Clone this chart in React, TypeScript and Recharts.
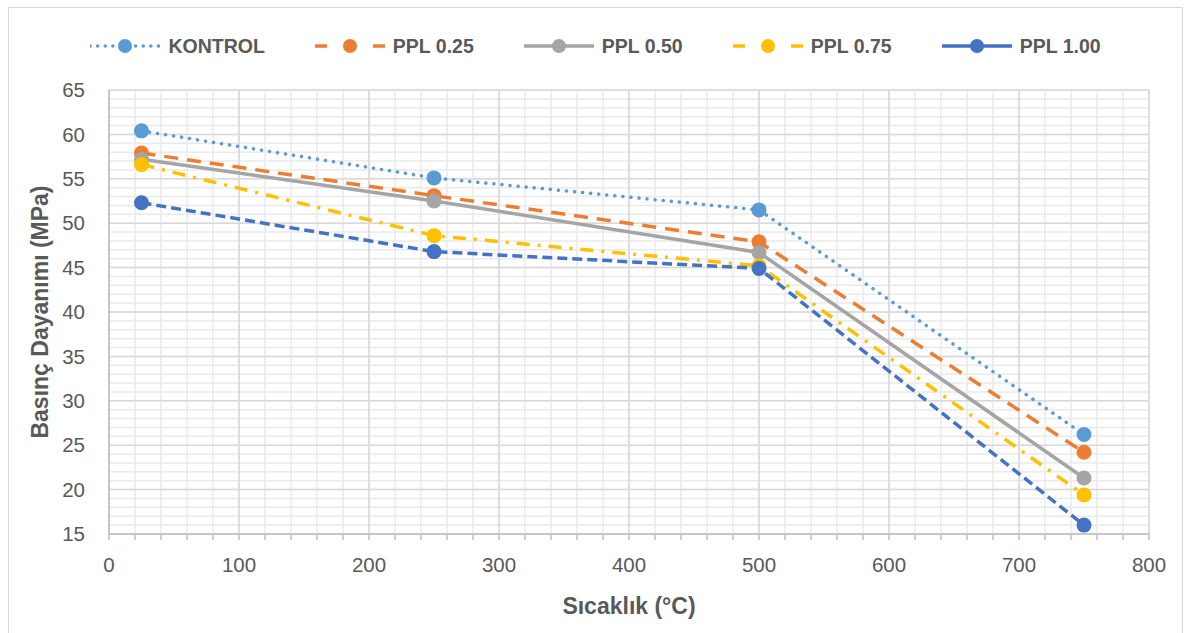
import React from 'react';
import { LineChart, Line, XAxis, YAxis, CartesianGrid, Legend, Label } from 'recharts';

// Sıcaklık değerleri (°C)
const temperatures = [25, 250, 500, 750];

// Basınç dayanımı (MPa) - her seri için
const kontrol = [60.4, 55.1, 51.5, 26.2];
const ppl025 = [57.9, 53.1, 47.9, 24.2];
const ppl050 = [57.2, 52.5, 46.7, 21.3];
const ppl075 = [56.6, 48.6, 45.2, 19.4];
const ppl100 = [52.3, 46.8, 44.9, 16.0];

const xTickLabels = [0, 100, 200, 300, 400, 500, 600, 700, 800];
const yTickLabels = [15, 20, 25, 30, 35, 40, 45, 50, 55, 60, 65];

const series = [
  { key: 'kontrol', name: 'KONTROL', values: kontrol, color: '#5B9BD5', dash: '0.1 8', legendDash: '0.1 7.5', cap: 'round' as const },
  { key: 'ppl025', name: 'PPL 0.25', values: ppl025, color: '#ED7D31', dash: '14 9', legendDash: '12 46 12', cap: 'butt' as const },
  { key: 'ppl050', name: 'PPL 0.50', values: ppl050, color: '#A5A5A5', dash: undefined, legendDash: undefined, cap: 'butt' as const },
  { key: 'ppl075', name: 'PPL 0.75', values: ppl075, color: '#FFC000', dash: '13 8 3 8', legendDash: '12 46 12', cap: 'butt' as const },
  { key: 'ppl100', name: 'PPL 1.00', values: ppl100, color: '#4472C4', dash: '10 5', legendDash: undefined, cap: 'butt' as const },
];

const data = temperatures.map((t, i) => {
  const row: Record<string, number> = { temp: t };
  series.forEach(s => { row[s.key] = s.values[i]; });
  return row;
});

// minor grid / tick positions
const xMinor: number[] = [];
for (let v = 0; v <= 800; v += 20) xMinor.push(v);
const yMinor: number[] = [];
for (let v = 15; v <= 65; v += 1) yMinor.push(v);

const textColor = '#595959';
const font = '"Liberation Sans", Arial, sans-serif';

const LegendContent = () => (
  <div style={{ display: 'flex', justifyContent: 'center', alignItems: 'center', height: 30, gap: 50 }}>
    {series.map(s => (
      <div key={s.key} style={{ display: 'flex', alignItems: 'center' }}>
        <svg width={70} height={20}>
          <line x1={0} y1={10} x2={70} y2={10} stroke={s.color} strokeWidth={3.5}
            strokeDasharray={s.legendDash} strokeLinecap={s.cap} />
          <circle cx={35} cy={10} r={7} fill={s.color} />
        </svg>
        <span style={{ marginLeft: 8, fontFamily: font, fontWeight: 700, fontSize: 19.5, color: textColor }}>
          {s.name}
        </span>
      </div>
    ))}
  </div>
);

export default function App() {
  return (
    <div style={{ position: 'absolute', left: 0, top: 0, width: 1202, height: 633, fontFamily: font, overflow: 'hidden' }}>
      <div style={{ position: 'absolute', left: 8, top: 7, width: 1173, height: 640, border: '1.5px solid #d9d9d9' }} />
      <LineChart width={1202} height={633} data={data} margin={{ top: 60, right: 53, bottom: 0, left: 0 }}>
        <CartesianGrid stroke="#eaeaea" strokeWidth={1.5} horizontalValues={yMinor} verticalValues={xMinor} />
        <CartesianGrid stroke="#d9d9d9" strokeWidth={1.5} horizontalValues={yTickLabels} verticalValues={xTickLabels} />
        <XAxis
          dataKey="temp"
          type="number"
          domain={[0, 800]}
          ticks={xMinor}
          interval={0}
          height={99}
          tickSize={6}
          tickMargin={17}
          tickFormatter={(v: number) => (xTickLabels.includes(v) ? String(v) : '')}
          stroke="#bfbfbf"
          strokeWidth={1.5}
          tick={{ fill: textColor, fontSize: 20.5 }}
        >
          <Label
            content={({ viewBox }: any) => (
              <text x={viewBox.x + viewBox.width / 2} y={606} textAnchor="middle" dominantBaseline="central"
                fill={textColor} fontSize={23} fontWeight={700}>
                Sıcaklık (°C)
              </text>
            )}
          />
        </XAxis>
        <YAxis
          type="number"
          domain={[15, 65]}
          ticks={yTickLabels}
          interval={0}
          width={109}
          tickLine={false}
          tickSize={0}
          tickMargin={24}
          stroke="#bfbfbf"
          strokeWidth={1.5}
          tick={{ fill: textColor, fontSize: 20.5 }}
        >
          <Label
            content={({ viewBox }: any) => {
              const cy = viewBox.y + viewBox.height / 2;
              return (
                <text x={40} y={cy} transform={`rotate(-90, 40, ${cy})`} textAnchor="middle" dominantBaseline="central"
                  fill={textColor} fontSize={23} fontWeight={700}>
                  Basınç Dayanımı (MPa)
                </text>
              );
            }}
          />
        </YAxis>
        <Legend verticalAlign="top" height={30} content={() => <LegendContent />}
          wrapperStyle={{ top: 31, left: 8, width: 1175 }} />
        {series.map(s => (
          <Line
            key={s.key}
            type="linear"
            dataKey={s.key}
            name={s.name}
            stroke={s.color}
            strokeWidth={3.5}
            strokeDasharray={s.dash}
            strokeLinecap={s.cap}
            dot={{ r: 7.5, fill: s.color, stroke: 'none', strokeDasharray: 'none' }}
            activeDot={false}
            isAnimationActive={false}
          />
        ))}
      </LineChart>
    </div>
  );
}
